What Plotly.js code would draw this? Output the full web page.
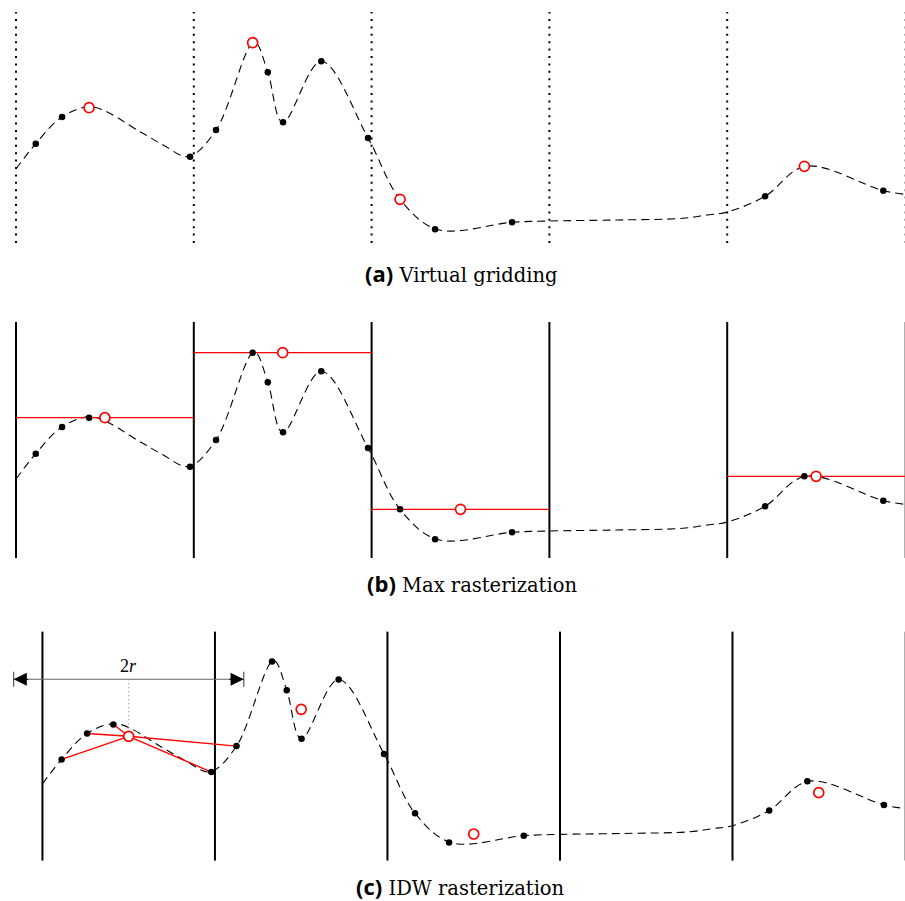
<!DOCTYPE html>
<html>
<head>
<meta charset="utf-8">
<script src="https://cdn.plot.ly/plotly-3.0.1.min.js"></script>
<style>html,body{margin:0;padding:0;background:#fff;}#chart{width:905px;height:901px;}</style>
</head>
<body>
<div id="chart"></div>
<script>
// ---- data ----
const cellEdges = [0, 1, 2, 3, 4, 5];
// underlying signal (knots)
const curveX = [0, 0.111, 0.259, 0.43, 0.697, 0.828, 0.97, 1.125, 1.34, 1.416, 1.50, 1.717, 1.98, 2.16, 2.37, 2.79, 3.0, 3.38, 3.75, 3.886, 4.0, 4.213, 4.44, 4.878, 5.0];
const curveY = [74, 99.3, 126, 136, 111.3, 98, 86.5, 113, 201, 170.7, 120.5, 181.7, 105, 43.7, 13.5, 20.7, 22, 23, 24.7, 28, 31, 46.7, 76.8, 52.3, 48.7];
// samples
const sampleX = [0.111, 0.259, 0.411, 0.979, 1.125, 1.331, 1.416, 1.502, 1.717, 1.980, 2.160, 2.357, 2.790, 4.213, 4.434, 4.878];
const sampleY = [99.3, 126, 135.3, 86.3, 113, 200.3, 170.7, 120.7, 181.7, 105, 43.7, 13.7, 20.7, 46.7, 76.7, 52.3];
// IDW estimates at cell centres
const idwX = [0.5, 1.5, 2.5, 4.5];
const idwY = [123.1, 150.9, 22.4, 65.0];
const idwRadius = 0.667;
const captionTags = ['(a)', '(b)', '(c)'];
const captionTexts = ['Virtual gridding', 'Max rasterization', 'IDW rasterization'];

// ---- derived ----
const maxIdx = {};
sampleX.forEach((x, i) => {
  const c = Math.floor(x);
  if (maxIdx[c] === undefined || sampleY[i] > sampleY[maxIdx[c]]) maxIdx[c] = i;
});
const maxCells = Object.keys(maxIdx).map(Number);

function vlines(ax, ay, lo, hi, dash) {
  const x = [], y = [];
  const inner = cellEdges.slice(0, -1);
  inner.forEach(e => { x.push(e, e, null); y.push(lo, hi, null); });
  const last = cellEdges[cellEdges.length - 1];
  return [
    {x, y, xaxis: ax, yaxis: ay, mode: 'lines', hoverinfo: 'skip',
      line: {color: '#000', width: 2, dash: dash || 'solid'}},
    {x: [last, last], y: [lo, hi], xaxis: ax, yaxis: ay, mode: 'lines', hoverinfo: 'skip',
      line: {color: '#b0b0b0', width: 2, dash: dash || 'solid'}}
  ];
}
function curve(ax, ay) {
  return {x: curveX, y: curveY, xaxis: ax, yaxis: ay, mode: 'lines', hoverinfo: 'skip',
    line: {color: '#000', width: 1.1, dash: '8px,5px', shape: 'spline', smoothing: 1}};
}
function dots(ax, ay, xs, ys) {
  return {x: xs, y: ys, xaxis: ax, yaxis: ay, mode: 'markers', hoverinfo: 'skip',
    marker: {color: '#000', size: 6.5}};
}
function rings(ax, ay, xs, ys) {
  return {x: xs, y: ys, xaxis: ax, yaxis: ay, mode: 'markers', hoverinfo: 'skip',
    marker: {color: '#fff', size: 10, line: {color: '#f00', width: 1.7}}};
}

const traces = [];
// panel (a)
const maxSet = new Set(maxCells.map(c => maxIdx[c]));
traces.push(...vlines('x', 'y', 0, 231, '2px,5.4px'));
traces.push(curve('x', 'y'));
traces.push(dots('x', 'y', sampleX.filter((_, i) => !maxSet.has(i)), sampleY.filter((_, i) => !maxSet.has(i))));
traces.push(rings('x', 'y', maxCells.map(c => sampleX[maxIdx[c]]), maxCells.map(c => sampleY[maxIdx[c]])));

// panel (b)
traces.push(curve('x2', 'y2'));
traces.push(...vlines('x2', 'y2', -5, 231));
(function () {
  const x = [], y = [];
  maxCells.forEach(c => { x.push(c, c + 1, null); y.push(sampleY[maxIdx[c]], sampleY[maxIdx[c]], null); });
  traces.push({x, y, xaxis: 'x2', yaxis: 'y2', mode: 'lines', hoverinfo: 'skip', line: {color: '#f00', width: 1.3}});
})();
traces.push(dots('x2', 'y2', sampleX, sampleY));
traces.push(rings('x2', 'y2', maxCells.map(c => c + 0.5), maxCells.map(c => sampleY[maxIdx[c]])));

// panel (c)
traces.push(curve('x3', 'y3'));
traces.push(...vlines('x3', 'y3', -5, 231));
(function () {
  const x = [], y = [];
  sampleX.forEach((sx, i) => {
    if (Math.abs(sx - idwX[0]) <= idwRadius) { x.push(idwX[0], sx, null); y.push(idwY[0], sampleY[i], null); }
  });
  traces.push({x, y, xaxis: 'x3', yaxis: 'y3', mode: 'lines', hoverinfo: 'skip', line: {color: '#f00', width: 1.4}});
})();
const arrowY = 181.9;
const arrL = idwX[0] - idwRadius, arrR = idwX[0] + idwRadius;
traces.push({x: [arrL, arrR], y: [arrowY, arrowY], xaxis: 'x3', yaxis: 'y3', mode: 'lines', hoverinfo: 'skip',
  line: {color: '#666', width: 1.2}});
traces.push({x: [arrL, arrL, null, arrR, arrR], y: [arrowY - 7.7, arrowY + 7.7, null, arrowY - 7.7, arrowY + 7.7],
  xaxis: 'x3', yaxis: 'y3', mode: 'lines', hoverinfo: 'skip', line: {color: '#555', width: 1.2}});
traces.push({x: [idwX[0], idwX[0]], y: [arrowY, idwY[0] + 6], xaxis: 'x3', yaxis: 'y3', mode: 'lines', hoverinfo: 'skip',
  line: {color: '#777', width: 1, dash: '1px,3px'}});
traces.push(dots('x3', 'y3', sampleX, sampleY));
traces.push(rings('x3', 'y3', idwX, idwY));

const H = 901;
const dom = (top, bot) => [1 - bot / H, 1 - top / H];
const hid = {visible: false, showgrid: false, zeroline: false, fixedrange: true};

const annotations = [];
const capY = [273, 583, 886];
const capX = [461, 472, 460];
captionTags.forEach((t, i) => {
  annotations.push({xref: 'paper', yref: 'paper', x: capX[i] / 905, y: 1 - capY[i] / H, showarrow: false,
    xanchor: 'center', yanchor: 'middle',
    text: '<span style="font-family:\'Open Sans\';font-size:22px"><b>' + t + '</b></span> ' + captionTexts[i],
    font: {family: 'DejaVu Serif', size: 19.5, color: '#000'}});
});
annotations.push({xref: 'x3', yref: 'y3', x: idwX[0], y: 195.5, showarrow: false, text: '2<i>r</i>',
  font: {family: 'Liberation Serif', size: 18, color: '#000'}});
// arrow heads
[[arrL, 1], [arrR, -1]].forEach(([xe, s]) => {
  annotations.push({xref: 'x3', yref: 'y3', x: xe, y: arrowY, ax: s * 16, ay: 0, axref: 'pixel', ayref: 'pixel',
    showarrow: true, arrowhead: 2, arrowsize: 2.2, arrowwidth: 1.2, arrowcolor: '#000', text: ''});
});

const layout = {
  width: 905, height: 901, margin: {l: 0, r: 0, t: 0, b: 0},
  paper_bgcolor: '#fff', plot_bgcolor: '#fff', showlegend: false,
  xaxis: Object.assign({domain: [0, 1], range: [-0.09, 5.0]}, hid),
  yaxis: Object.assign({domain: dom(0, 255), range: [-12, 243]}, hid),
  xaxis2: Object.assign({domain: [0, 1], range: [-0.09, 5.0]}, hid),
  yaxis2: Object.assign({domain: dom(310, 565), range: [-12, 243]}, hid),
  xaxis3: Object.assign({domain: [0, 1], range: [-0.246, 5.0]}, hid),
  yaxis3: Object.assign({domain: dom(620, 870), range: [-14.7, 243]}, hid),
  annotations
};
Plotly.newPlot('chart', traces, layout, {displayModeBar: false, staticPlot: true});
</script>
</body>
</html>
